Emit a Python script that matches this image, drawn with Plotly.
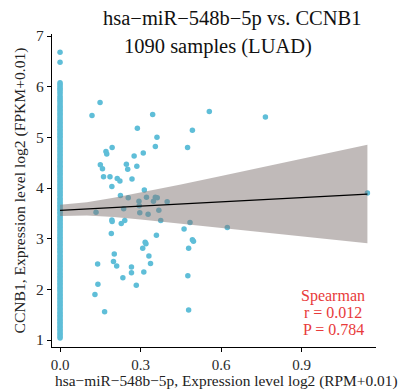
import plotly.graph_objects as go

# x>0 samples (miRNA log2 RPM, CCNB1 log2 FPKM)
scatter_x = [0.119, 0.149, 0.345, 0.288, 0.493, 0.556, 0.765, 0.361, 0.355, 0.475,
             0.194, 0.171, 0.174, 0.310, 0.276, 0.150, 0.158, 0.247, 0.252, 0.286,
             0.162, 0.186, 0.213, 0.223, 0.268, 0.193, 0.314, 0.225, 0.254, 0.322,
             0.355, 0.362, 0.294, 0.295, 0.348, 0.399, 0.237, 0.134, 0.297, 0.328,
             0.368, 0.193, 0.194, 0.241, 0.228, 0.375, 0.191, 0.359, 0.462, 0.484,
             0.623, 0.317, 0.320, 0.493, 0.497, 0.308, 0.479, 0.202, 0.331, 0.199,
             0.211, 0.140, 0.337, 0.266, 0.266, 0.312, 0.234, 0.141, 0.284, 0.476,
             0.130, 0.166, 0.479, 1.145]
scatter_y = [5.43, 5.69, 5.45, 5.18, 5.14, 5.51, 5.40, 5.00, 4.82, 4.80,
             4.80, 4.72, 4.67, 4.69, 4.63, 4.46, 4.38, 4.47, 4.37, 4.43,
             4.22, 4.22, 4.19, 4.14, 4.18, 4.03, 3.96, 3.85, 3.81, 3.82,
             3.82, 3.81, 3.74, 3.65, 3.74, 3.73, 3.59, 3.52, 3.51, 3.48,
             3.56, 3.37, 3.34, 3.36, 3.30, 3.36, 3.10, 3.07, 3.19, 3.32,
             3.22, 2.93, 2.90, 2.98, 2.95, 2.81, 2.81, 2.70, 2.66, 2.55,
             2.46, 2.50, 2.51, 2.44, 2.33, 2.34, 2.23, 2.10, 2.08, 2.27,
             1.90, 1.56, 1.59, 3.90]

# samples with zero miRNA expression (x = 0)
zero_y = [6.68, 6.48, 6.08, 6.05, 6.01, 5.97, 5.94, 5.9, 5.86, 5.81, 5.77, 5.73, 5.7,
          5.66, 5.62, 5.59, 5.55, 5.52, 5.48, 5.45, 5.41, 5.37, 5.34, 5.3, 5.27, 5.23,
          5.2, 5.16, 5.13, 5.09, 5.06, 5.02, 4.99, 4.95, 4.92, 4.88, 4.85, 4.81, 4.78,
          4.74, 4.71, 4.67, 4.64, 4.6, 4.57, 4.53, 4.5, 4.46, 4.43, 4.4, 4.36, 4.33,
          4.29, 4.26, 4.22, 4.19, 4.15, 4.12, 4.08, 4.05, 4.01, 3.98, 3.94, 3.91, 3.87,
          3.84, 3.8, 3.77, 3.73, 3.7, 3.66, 3.63, 3.59, 3.56, 3.52, 3.49, 3.45, 3.42,
          3.38, 3.35, 3.31, 3.28, 3.24, 3.21, 3.17, 3.14, 3.1, 3.07, 3.03, 3.0, 2.96,
          2.93, 2.89, 2.86, 2.82, 2.79, 2.75, 2.72, 2.68, 2.65, 2.61, 2.58, 2.54, 2.51,
          2.47, 2.44, 2.4, 2.37, 2.33, 2.3, 2.26, 2.23, 2.19, 2.16, 2.12, 2.09, 2.05,
          2.02, 1.98, 1.95, 1.91, 1.88, 1.84, 1.81, 1.77, 1.74, 1.7, 1.67, 1.63, 1.6,
          1.56, 1.53, 1.49, 1.46, 1.42, 1.39, 1.35, 1.32, 1.28, 1.25, 1.21, 1.18, 1.14,
          1.11, 1.07, 1.04]

# linear fit with 95% confidence band
fit_x = [0.0, 0.1, 0.2, 0.3, 0.45, 0.6, 0.8, 1.0, 1.145]
fit_y = [3.560, 3.588, 3.616, 3.644, 3.686, 3.728, 3.784, 3.840, 3.881]
band_lo = [3.450, 3.458, 3.426, 3.380, 3.301, 3.218, 3.106, 2.992, 2.910]
band_hi = [3.670, 3.718, 3.806, 3.908, 4.071, 4.238, 4.462, 4.688, 4.852]

x_ticks = [0.0, 0.3, 0.6, 0.9]
x_tick_text = ["0.0", "0.3", "0.6", "0.9"]
y_ticks = [1, 2, 3, 4, 5, 6, 7]

title_lines = ["hsa\u2212miR\u2212548b\u22125p vs. CCNB1", "1090 samples (LUAD)"]
stat_lines = ["Spearman", "r = 0.012", "P = 0.784"]
x_title = "hsa\u2212miR\u2212548b\u22125p, Expression level log2 (RPM+0.01)"
y_title = "CCNB1, Expression level log2 (FPKM+0.01)"

FONT = "Liberation Serif"
PT = "rgb(95,190,216)"
W, H = 402, 392
L, R, T, B = 52, 26, 34, 45

fig = go.Figure()
fig.add_trace(go.Scatter(x=[0.0] * len(zero_y), y=zero_y, mode="markers",
                         marker=dict(size=5.5, color=PT, line=dict(width=0)),
                         hoverinfo="skip", showlegend=False))
fig.add_trace(go.Scatter(x=scatter_x, y=scatter_y, mode="markers",
                         marker=dict(size=5.5, color=PT, line=dict(width=0)),
                         showlegend=False))
fig.add_trace(go.Scatter(x=fit_x + fit_x[::-1], y=band_hi + band_lo[::-1],
                         fill="toself", fillcolor="rgba(130,118,115,0.5)",
                         line=dict(width=0), mode="lines", hoverinfo="skip",
                         showlegend=False))
fig.add_trace(go.Scatter(x=fit_x, y=fit_y, mode="lines",
                         line=dict(color="black", width=1.3), showlegend=False))

fig.update_layout(
    width=W, height=H,
    margin=dict(l=L, r=R, t=T, b=B),
    paper_bgcolor="white", plot_bgcolor="white",
    font=dict(family=FONT, color="#222222", size=15),
    xaxis=dict(range=[-0.030, 1.177], tickvals=x_ticks, ticktext=x_tick_text,
               showgrid=False, zeroline=False, showline=True, linecolor="black",
               linewidth=1.3, ticks="outside", ticklen=4, tickcolor="black",
               tickwidth=1.1,
               tickfont=dict(size=15, family=FONT, color="#2a2a2a")),
    yaxis=dict(range=[0.862, 7.04], tickvals=y_ticks,
               showgrid=False, zeroline=False, showline=True, linecolor="black",
               linewidth=1.3, ticks="outside", ticklen=4, tickcolor="black",
               tickwidth=1.1, tickfont=dict(size=15.5, family=FONT, color="#2a2a2a"),
               title=dict(text=y_title, font=dict(size=15.6, family=FONT, color="#222222"),
                          standoff=6)),
)

def px(xp, yp):
    # convert window pixel to paper coords
    return (xp - L) / (W - L - R), 1 - (yp - T) / (H - T - B)

ann = []
tx, ty = px(232, 18)
ann.append(dict(text=title_lines[0], x=tx, y=ty, xref="paper", yref="paper",
                showarrow=False, xanchor="center", yanchor="middle",
                font=dict(size=20.5, family=FONT, color="#111111")))
tx, ty = px(218.5, 46)
ann.append(dict(text=title_lines[1], x=tx, y=ty, xref="paper", yref="paper",
                showarrow=False, xanchor="center", yanchor="middle",
                font=dict(size=20.5, family=FONT, color="#111111")))
tx, ty = px(226, 381)
ann.append(dict(text=x_title, x=tx, y=ty, xref="paper", yref="paper",
                showarrow=False, xanchor="center", yanchor="middle",
                font=dict(size=15.4, family=FONT, color="#222222")))
for s, yp in zip(stat_lines, [296, 312.5, 329]):
    sx, sy = px(333, yp)
    ann.append(dict(text=s, x=sx, y=sy, xref="paper", yref="paper", showarrow=False,
                    xanchor="center", yanchor="middle",
                    font=dict(size=16, family=FONT, color="rgb(232,58,58)")))
fig.update_layout(annotations=ann)

fig.write_html("out.html")
